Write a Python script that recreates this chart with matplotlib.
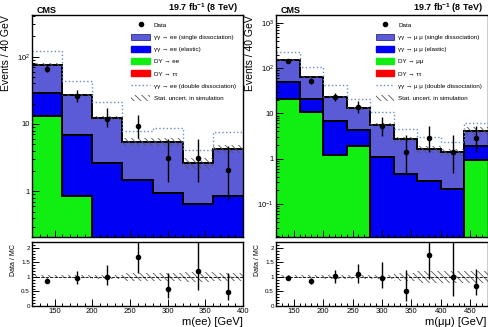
import numpy as np
import matplotlib
matplotlib.use('Agg')
import matplotlib.pyplot as plt
from matplotlib.patches import Patch
from matplotlib.lines import Line2D
from matplotlib.ticker import FuncFormatter, MultipleLocator, LogLocator, NullFormatter

plt.rcParams['font.family'] = ['Liberation Sans', 'DejaVu Sans']
plt.rcParams['mathtext.default'] = 'regular'
plt.rcParams['hatch.linewidth'] = 0.6

# ---- ee channel ----
ee_edges = [120, 160, 200, 240, 280, 320, 360, 400]
ee_dy = [13.2, 0.85, 0, 0, 0, 0, 0]
ee_elastic = [15.8, 5.95, 2.57, 1.39, 0.83, 0.55, 0.76]
ee_single = [47, 20.2, 9.7, 4.0, 4.5, 2.0, 3.4]
ee_double = [44, 17, 8.7, 2.4, 3.2, 1.5, 3.4]
ee_stat = [0.05, 0.05, 0.06, 0.14, 0.14, 0.18, 0.14]
ee_data = [66, 26, 12, 9.3, 3.1, 3.1, 2.05]
ee_data_lo = [59, 21, 9, 6.3, 1.4, 1.4, 0.74]
ee_data_hi = [76, 32, 17, 13.4, 5.9, 5.9, 4.7]
ee_ratio = [0.87, 0.97, 1.0, 1.7, 0.58, 1.2, 0.48]
ee_ratio_lo = [0.78, 0.77, 0.72, 1.15, 0.28, 0.55, 0.2]
ee_ratio_hi = [0.96, 1.2, 1.4, 2.5, 1.15, 2.5, 1.15]

# ---- mumu channel ----
mm_edges = [120, 160, 200, 240, 280, 320, 360, 400, 440, 480]
mm_dy = [21, 10.5, 1.19, 1.95, 0, 0, 0, 0, 0.96]
mm_elastic = [29, 10.5, 5.6, 2.35, 1.1, 0.46, 0.32, 0.21, 0.94]
mm_single = [102, 42, 16.7, 8.7, 4.5, 2.24, 1.3, 1.18, 2.3]
mm_double = [80, 42, 19.5, 7.4, 5.4, 1.8, 1.4, 0.9, 2.1]
mm_stat = [0.05, 0.05, 0.06, 0.07, 0.08, 0.14, 0.2, 0.2, 0.2]
mm_data = [145, 52, 23.5, 14.2, 5.4, 1.39, 2.9, 1.39, 2.9]
mm_data_lo = [133, 45, 19, 10, 3.2, 0.48, 1.4, 0.48, 1.4]
mm_data_hi = [157, 60, 29, 18.5, 8.5, 3.3, 5.3, 3.3, 5.3]
mm_ratio = [0.97, 0.85, 1.02, 1.1, 0.97, 0.52, 1.75, 1.0, 0.7]
mm_ratio_lo = [0.9, 0.76, 0.8, 0.8, 0.62, 0.18, 0.93, 0.35, 0.38]
mm_ratio_hi = [1.04, 0.95, 1.25, 1.43, 1.5, 1.25, 2.5, 2.5, 1.27]

C_SINGLE = '#5b5bd8'
C_EL = '#0000f5'
C_DY = '#11ee11'
C_TT = '#ff0000'
C_DD = '#6a8cc8'
HATCH = '\\\\\\\\\\'


def logfmt(v, pos):
    n = int(round(np.log10(v)))
    if n == 0:
        return '1'
    if n == 1:
        return '10'
    return '$10^{%d}$' % n


def draw(ax, axr, edges, dy, el, single, dd, stat, data, dlo, dhi,
         ratio, rlo, rhi, ylim, lep, lep2, xlabel, xlab_x):
    edges = np.array(edges, float)
    centers = 0.5 * (edges[1:] + edges[:-1])
    floor = ylim[0] * 0.5
    dy = np.maximum(np.array(dy, float), floor)
    c1 = dy + np.array(el)
    c2 = c1 + np.array(single)
    stat = np.array(stat)
    data = np.array(data)

    ax.stairs(dy, edges, baseline=floor, fill=True, color=C_DY)
    ax.stairs(c1, edges, baseline=dy, fill=True, color=C_EL)
    ax.stairs(c2, edges, baseline=c1, fill=True, color=C_SINGLE)
    for c in (dy, c1, c2):
        ax.stairs(c, edges, baseline=None, color='k', lw=1.4)
    ax.stairs(c2 * (1 + stat), edges, baseline=c2 * (1 - stat), fill=True,
              facecolor='none', edgecolor='#555555', hatch=HATCH, lw=0)
    ax.stairs(c2 + np.array(dd), edges, baseline=None, ls=':', color=C_DD, lw=1.0)
    ax.errorbar(centers, data, yerr=[data - np.array(dlo), np.array(dhi) - data],
                fmt='o', color='k', ms=3, elinewidth=1, capsize=0)

    ax.set_yscale('log')
    ax.set_ylim(*ylim)
    ax.set_xlim(edges[0], edges[-1])
    ax.yaxis.set_major_locator(LogLocator(base=10))
    ax.yaxis.set_minor_locator(LogLocator(base=10, subs=np.arange(2, 10)))
    ax.yaxis.set_major_formatter(FuncFormatter(logfmt))
    ax.yaxis.set_minor_formatter(NullFormatter())
    ax.set_xticklabels([])
    ax.set_ylabel('Events / 40 GeV', fontsize=7.5, loc='top')
    ax.yaxis.set_label_coords(-0.1, 1.0)
    ax.text(0.02, 1.0, 'CMS', transform=ax.transAxes, fontsize=6.5,
            fontweight='bold', va='bottom')
    ax.text(0.977, 1.0, '19.7 fb$^{-1}$ (8 TeV)', transform=ax.transAxes,
            fontsize=6.5, fontweight='bold', va='bottom', ha='right')

    handles = [
        Line2D([], [], marker='o', color='k', ls='none', ms=3),
        Patch(facecolor=C_SINGLE, edgecolor='#2a2a90', lw=0.6),
        Patch(facecolor=C_EL, edgecolor=C_EL),
        Patch(facecolor=C_DY, edgecolor=C_DY),
        Patch(facecolor=C_TT, edgecolor=C_TT),
        Line2D([], [], ls=':', color=C_DD, lw=1.0),
        Patch(facecolor='white', edgecolor='#555555', hatch=HATCH, lw=0),
    ]
    labels = ['Data',
              '\u03b3\u03b3 \u2192 %s (single dissociation)' % lep,
              '\u03b3\u03b3 \u2192 %s (elastic)' % lep,
              'DY \u2192 %s' % lep2,
              'DY \u2192 \u03c4\u03c4',
              '\u03b3\u03b3 \u2192 %s (double dissociation)' % lep,
              'Stat. uncert. in simulation']
    ax.legend(handles, labels, loc='upper left', bbox_to_anchor=(0.47, 0.97),
              frameon=False, fontsize=4.5, labelspacing=0.95, handlelength=3.0,
              handleheight=1.15, handletextpad=0.6, borderpad=0, borderaxespad=0)

    # ratio panel
    axr.stairs(1 + stat, edges, baseline=1 - stat, fill=True, facecolor='none',
               edgecolor='#555555', hatch=HATCH, lw=0)
    axr.axhline(1, color='k', ls='--', lw=0.6)
    ratio = np.array(ratio)
    axr.errorbar(centers, ratio, yerr=[ratio - np.array(rlo), np.array(rhi) - ratio],
                 fmt='o', color='k', ms=3, elinewidth=1, capsize=0)
    axr.set_xlim(edges[0], edges[-1])
    axr.set_ylim(0, 2.2)
    axr.yaxis.set_major_locator(MultipleLocator(0.5))
    axr.yaxis.set_minor_locator(MultipleLocator(0.1))
    axr.yaxis.set_major_formatter(FuncFormatter(lambda v, p: '%g' % v))
    axr.set_ylabel('Data / MC', fontsize=5, loc='top')
    axr.yaxis.set_label_coords(-0.07, 0.97)
    axr.set_xlabel(xlabel, fontsize=8, loc='right')
    axr.xaxis.set_label_coords(xlab_x, -0.17)

    for a in (ax, axr):
        a.xaxis.set_major_locator(MultipleLocator(50))
        a.xaxis.set_minor_locator(MultipleLocator(10))
        a.tick_params(which='both', direction='in', labelsize=5.5, pad=1.5, width=0.7)
        a.tick_params(which='major', length=5)
        a.tick_params(which='minor', length=2.5)
        for s in a.spines.values():
            s.set_linewidth(1.0)
    axr.tick_params(axis='y', labelsize=4.5)


fig = plt.figure(figsize=(4.88, 3.27), dpi=100)
W, H = 488.0, 327.0
ax1 = fig.add_axes([32 / W, (H - 237) / H, 211 / W, 222 / H])
ax1r = fig.add_axes([32 / W, (H - 306) / H, 211 / W, 64 / H])
ax2 = fig.add_axes([276 / W, (H - 237) / H, 212 / W, 222 / H])
ax2r = fig.add_axes([276 / W, (H - 306) / H, 212 / W, 64 / H])

draw(ax1, ax1r, ee_edges, ee_dy, ee_elastic, ee_single, ee_double, ee_stat,
     ee_data, ee_data_lo, ee_data_hi, ee_ratio, ee_ratio_lo, ee_ratio_hi,
     (0.21, 415), 'ee', 'ee', 'm(ee) [GeV]', 1.0)
draw(ax2, ax2r, mm_edges, mm_dy, mm_elastic, mm_single, mm_double, mm_stat,
     mm_data, mm_data_lo, mm_data_hi, mm_ratio, mm_ratio_lo, mm_ratio_hi,
     (0.0186, 1500), '\u03bc \u03bc', '\u03bc\u03bc', 'm(\u03bc\u03bc) [GeV]', 0.99)

fig.savefig('out.png', dpi=100)
